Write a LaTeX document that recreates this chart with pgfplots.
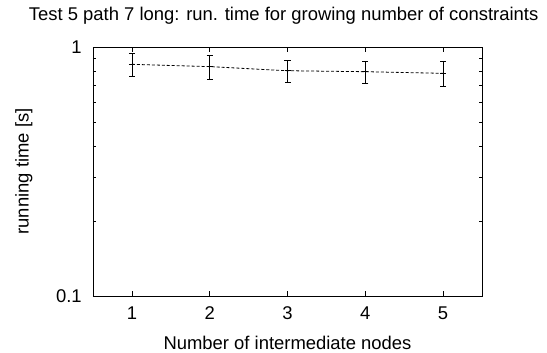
\documentclass[border=0pt]{standalone}
\usepackage{fontspec}
\setmainfont{Liberation Sans}
\usepackage{pgfplots}
\pgfplotsset{compat=1.18}
\begin{document}
\fontsize{18.5}{22}\selectfont
\begin{tikzpicture}
\begin{axis}[
  at={(0,0)}, anchor=south west,
  scale only axis, width=389bp, height=249bp,
  ymode=log, ymin=0.1, ymax=1,
  xmin=0.5, xmax=5.5,
  xtick={1,2,3,4,5},
  ytick={0.1,1}, yticklabels={0.1,1},
  minor ytick={0.2,0.3,0.4,0.5,0.6,0.7,0.8,0.9},
  tick align=inside,
  major tick length=5bp, minor tick length=3bp,
  tick style={black, line width=0.6pt},
  axis line style={line width=0.8pt},
  /pgf/number format/assume math mode=true,
  ticklabel style={font=\fontsize{18.5}{22}\selectfont},
  label style={font=\fontsize{18.5}{22}\selectfont},
  title style={font=\fontsize{18.5}{22}\selectfont, anchor=base, at={(0.49,1)}, yshift=21bp},
  title={Test 5 path 7 long: run. time for growing number of constraints},
  xlabel={Number of intermediate nodes},
  ylabel={running time [s]},
  xlabel style={yshift=-4bp},
  ylabel style={yshift=11bp},
  xticklabel style={yshift=-4bp},
  yticklabel style={xshift=-5bp},
]
\addplot[black, densely dashed, line width=0.8pt, mark=+, mark size=3bp, mark options={solid},
  error bars/.cd, y dir=both, y explicit, error mark options={rotate=90, mark size=3bp, line width=0.7pt},
  error bar style={solid, line width=0.8pt}]
  table[x=x, y=y, y error plus=ep, y error minus=em] {
x y ep em
1 0.852 0.091 0.092
2 0.834 0.089 0.090
3 0.803 0.081 0.080
4 0.796 0.083 0.083
5 0.784 0.089 0.091
};
\end{axis}
\pgfresetboundingbox
\path (-93bp,-57bp) rectangle (454bp,296bp);
\end{tikzpicture}
\end{document}
